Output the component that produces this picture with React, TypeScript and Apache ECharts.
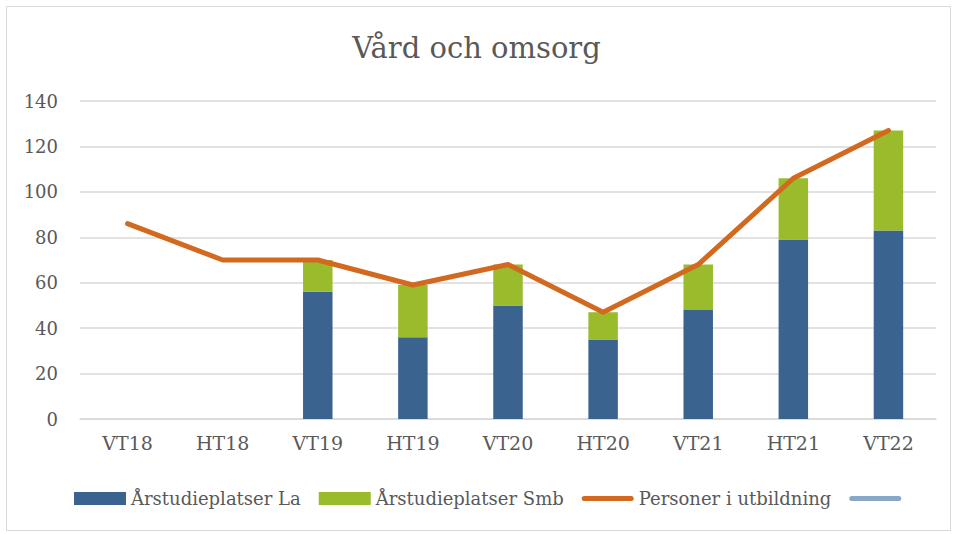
import React, { useEffect, useRef } from "react";
import * as echarts from "echarts";

const categories = ["VT18", "HT18", "VT19", "HT19", "VT20", "HT20", "VT21", "HT21", "VT22"];
const seriesLa = [null, null, 56, 36, 50, 35, 48, 79, 83];
const seriesSmb = [null, null, 14, 23, 18, 12, 20, 27, 44];
const personer = [86, 70, 70, 59, 68, 47, 68, 106, 127];
const yTicks = [0, 20, 40, 60, 80, 100, 120, 140];

const FONT = "'DejaVu Serif', 'Liberation Serif', serif";
const TEXT = "#595959";
const LINE_ICON = "path://M2.5,0 L49.5,0 A2.5,2.5 0 0 1 49.5,5 L2.5,5 A2.5,2.5 0 0 1 2.5,0 Z";

export default function App() {
  const ref = useRef<HTMLDivElement>(null);
  useEffect(() => {
    document.body.style.margin = "0";
    const chart = echarts.init(ref.current!, null, { renderer: "svg" });
    chart.setOption({
      animation: false,
      backgroundColor: "#ffffff",
      title: {
        text: "Vård och omsorg",
        left: "center",
        top: 28,
        textStyle: { fontFamily: FONT, fontSize: 29, fontWeight: "normal", color: TEXT },
      },
      graphic: [
        {
          type: "rect",
          shape: { x: 6.5, y: 6.5, width: 944, height: 524 },
          style: { fill: "none", stroke: "#d9d9d9", lineWidth: 1 },
          silent: true,
        },
      ],
      grid: { left: 80, right: 17, top: 101, bottom: 115, containLabel: false },
      legend: {
        top: 488,
        left: 74,
        padding: 0,
        itemWidth: 52,
        itemHeight: 13,
        itemGap: 18,
        textStyle: { fontFamily: FONT, fontSize: 18, color: TEXT, lineHeight: 21 },
        data: [
          { name: "Årstudieplatser La", icon: "rect" },
          { name: "Årstudieplatser Smb", icon: "rect" },
          { name: "Personer i utbildning", icon: LINE_ICON },
          { name: " ", icon: LINE_ICON },
        ],
      },
      xAxis: {
        type: "category",
        data: categories,
        axisLine: { lineStyle: { color: "#d9d9d9", width: 1.5 } },
        axisTick: { show: false },
        axisLabel: { fontFamily: FONT, fontSize: 19, color: TEXT, margin: 14 },
      },
      yAxis: {
        type: "value",
        min: yTicks[0],
        max: yTicks[yTicks.length - 1],
        interval: 20,
        axisLine: { show: false },
        axisTick: { show: false },
        splitLine: { lineStyle: { color: "#d9d9d9", width: 1.5 } },
        axisLabel: { fontFamily: FONT, fontSize: 18, color: TEXT, margin: 22 },
      },
      series: [
        {
          name: "Årstudieplatser La",
          type: "bar",
          stack: "a",
          data: seriesLa,
          barWidth: "31%",
          itemStyle: { color: "#3a648f" },
        },
        {
          name: "Årstudieplatser Smb",
          type: "bar",
          stack: "a",
          data: seriesSmb,
          barWidth: "31%",
          itemStyle: { color: "#9abb2c" },
        },
        {
          name: "Personer i utbildning",
          type: "line",
          data: personer,
          symbol: "none",
          lineStyle: { color: "#d2691f", width: 5, cap: "round", join: "round" },
          itemStyle: { color: "#d2691f" },
        },
        {
          name: " ",
          type: "line",
          data: [],
          symbol: "none",
          lineStyle: { color: "#87a8c9", width: 5, cap: "round" },
          itemStyle: { color: "#87a8c9" },
        },
      ],
    });
    return () => chart.dispose();
  }, []);
  return <div ref={ref} style={{ width: 953, height: 534 }} />;
}
